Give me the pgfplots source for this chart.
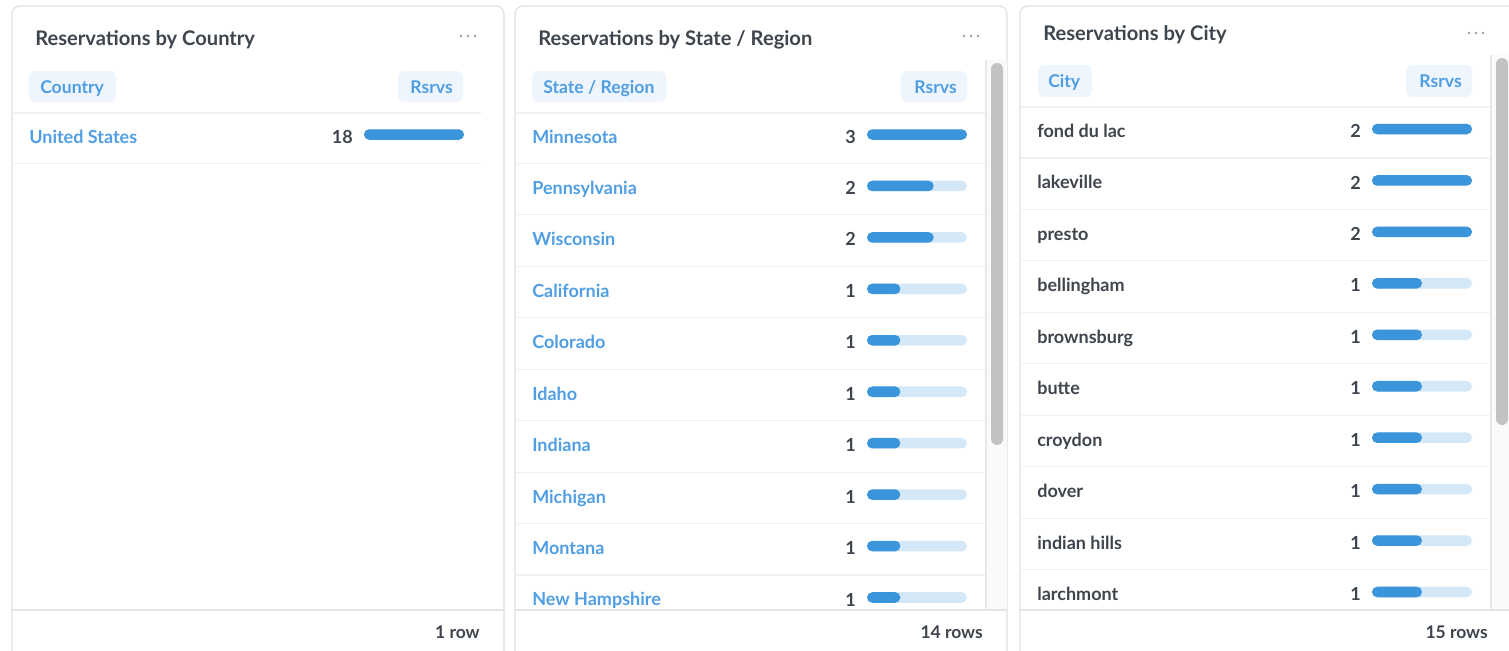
\documentclass[border=0pt]{standalone}
\usepackage{fontspec}
\setmainfont{Lato}
\usepackage{pgfplots}
\pgfplotsset{compat=1.18}
\definecolor{cardborder}{HTML}{DDE0E4}
\definecolor{sepc}{HTML}{EEF0F2}
\definecolor{footc}{HTML}{E2E4E7}
\definecolor{titlec}{HTML}{3F454D}
\definecolor{textc}{HTML}{3F454D}
\definecolor{linkc}{HTML}{509EE3}
\definecolor{pill}{HTML}{EEF5FC}
\definecolor{barc}{HTML}{3A95DB}
\definecolor{trackc}{HTML}{D5E8F8}
\definecolor{dotsc}{HTML}{9AA0A8}
\definecolor{thumbc}{HTML}{C2C2C2}
\definecolor{sbtrack}{HTML}{FAFAFA}
\definecolor{sbline}{HTML}{E8E8E8}
\newcommand\titlefont{\fontsize{15.1}{18}\selectfont\bfseries}
\newcommand\rowfont{\fontsize{13.5}{16}\selectfont\bfseries}
\newcommand\headfont{\fontsize{13.2}{16}\selectfont\bfseries}
\newcommand\footfont{\fontsize{13.1}{16}\selectfont\bfseries}
\pgfplotsset{
  rowbars/.style={scale only axis, width=75pt, xmin=0, ymin=-0.5, y dir=reverse, clip=false,
    axis x line=none, axis y line*=left, y axis line style={draw=none}, ytick style={draw=none},
    major tick length=0pt, anchor=north west,
    yticklabel style={font=\rowfont, text=textc, anchor=east, inner sep=0pt, xshift=-8.25pt, yshift=-1.5pt}},
  trackbar/.style={xbar, bar width=7.9pt, bar shift=0pt, fill=trackc, draw=none, rounded corners=3.9pt},
  valbar/.style={xbar, bar width=7.9pt, bar shift=0pt, fill=barc, draw=none, rounded corners=3.9pt}
}
\begin{document}
\begin{tikzpicture}
\useasboundingbox (0pt,0pt) rectangle (1131.75pt,-487.5pt);
\fill[white] (0pt,0pt) rectangle (1131.75pt,-487.5pt);
\clip (0pt,0pt) rectangle (1131.75pt,-487.5pt);
\begin{scope}[x=0.75pt,y=-0.75pt]
% cards
\foreach \l/\r in {12/504,515/1007,1020/1521}
  \draw[cardborder, line width=0.9pt, fill=white, rounded corners=6pt] (\l,6) rectangle (\r,690);
% ---------- card 1 ----------
\node[anchor=base west, font=\titlefont, text=titlec, inner sep=0pt] at (35,45) {Reservations by Country};
\foreach \d in {461,468,475} \fill[dotsc] (\d,36) circle (1.4);
\fill[pill, rounded corners=5pt] (29,71) rectangle (116,102);
\node[anchor=base west, font=\headfont, text=linkc, inner sep=0pt] at (40,93) {Country};
\fill[pill, rounded corners=5pt] (398,71) rectangle (463,102);
\node[anchor=base east, font=\headfont, text=linkc, inner sep=0pt] at (453,93) {Rsrvs};
\draw[sepc, line width=0.8pt] (12,113) -- (481,113);
\draw[sepc, line width=0.8pt] (12,163.5) -- (481,163.5);
\node[anchor=base west, font=\rowfont, text=linkc, inner sep=0pt] at (29,143) {United States};
\draw[footc, line width=1.2pt] (12,610) -- (504,610);
\node[anchor=base east, font=\footfont, text=textc, inner sep=0pt] at (480,638) {1 row};
% ---------- card 2 ----------
\node[anchor=base west, font=\titlefont, text=titlec, inner sep=0pt] at (538,45) {Reservations by State / Region};
\foreach \d in {964,971,978} \fill[dotsc] (\d,36) circle (1.4);
\fill[sbtrack] (986,60) rectangle (1007,610);
\draw[sbline, line width=0.8pt] (986,60) -- (986,610);
\fill[thumbc, rounded corners=4.5pt] (991,63) rectangle (1003,445);
\fill[pill, rounded corners=5pt] (532,71) rectangle (666,102);
\node[anchor=base west, font=\headfont, text=linkc, inner sep=0pt] at (543,93) {State / Region};
\fill[pill, rounded corners=5pt] (901,71) rectangle (967,102);
\node[anchor=base east, font=\headfont, text=linkc, inner sep=0pt] at (957,93) {Rsrvs};
\draw[sepc, line width=0.8pt] (515,113) -- (985,113);
\foreach \i in {0,...,8} \draw[sepc, line width=0.8pt] (515,163.5+51.44*\i) -- (985,163.5+51.44*\i);
\foreach \n [count=\i from 0] in {Minnesota,Pennsylvania,Wisconsin,California,Colorado,Idaho,Indiana,Michigan,Montana,New Hampshire}
  \node[anchor=base west, font=\rowfont, text=linkc, inner sep=0pt] at (532,143+51.44*\i) {\n};
\draw[footc, line width=1.2pt] (515,610) -- (1007,610);
\node[anchor=base east, font=\footfont, text=textc, inner sep=0pt] at (983,638) {14 rows};
% ---------- card 3 ----------
\node[anchor=base west, font=\titlefont, text=titlec, inner sep=0pt] at (1043,40.5) {Reservations by City};
\foreach \d in {1469,1476,1483} \fill[dotsc] (\d,33) circle (1.4);
\fill[sbtrack] (1491,55) rectangle (1512,610);
\draw[sbline, line width=0.8pt] (1491,55) -- (1491,610);
\fill[thumbc, rounded corners=4.5pt] (1496,58) rectangle (1508,425);
\fill[pill, rounded corners=5pt] (1038,65) rectangle (1092,97);
\node[anchor=base west, font=\headfont, text=linkc, inner sep=0pt] at (1048,87) {City};
\fill[pill, rounded corners=5pt] (1406,65) rectangle (1472,97);
\node[anchor=base east, font=\headfont, text=linkc, inner sep=0pt] at (1462,87) {Rsrvs};
\draw[sepc, line width=0.8pt] (1020,107) -- (1490,107);
\foreach \i in {0,...,8} \draw[sepc, line width=0.8pt] (1020,158+51.44*\i) -- (1490,158+51.44*\i);
\foreach \n [count=\i from 0] in {fond du lac,lakeville,presto,bellingham,brownsburg,butte,croydon,dover,indian hills,larchmont}
  \node[anchor=base west, font=\rowfont, text=textc, inner sep=0pt] at (1037,137.5+51.44*\i) {\n};
\draw[footc, line width=1.2pt] (1020,610) -- (1512,610);
\node[anchor=base east, font=\footfont, text=textc, inner sep=0pt] at (1488,638) {15 rows};
\end{scope}
% ---------- bar axes (positions in pt: px*0.75) ----------
\begin{axis}[rowbars, at={(273pt,-81.6pt)}, height=38.58pt, ymax=0.5, xmax=18,
  ytick={0}, yticklabels={18}]
\addplot[trackbar] coordinates {(18,0)};
\addplot[valbar] coordinates {(18,0)};
\end{axis}
\begin{axis}[rowbars, at={(650.25pt,-81.6pt)}, height=385.8pt, ymax=9.5, xmax=3,
  ytick={0,...,9}, yticklabels={3,2,2,1,1,1,1,1,1,1}]
\addplot[trackbar] coordinates {(3,0) (3,1) (3,2) (3,3) (3,4) (3,5) (3,6) (3,7) (3,8) (3,9)};
\addplot[valbar] coordinates {(3,0) (2,1) (2,2) (1,3) (1,4) (1,5) (1,6) (1,7) (1,8) (1,9)};
\end{axis}
\begin{axis}[rowbars, at={(1029pt,-77.475pt)}, height=385.8pt, ymax=9.5, xmax=2,
  ytick={0,...,9}, yticklabels={2,2,2,1,1,1,1,1,1,1}]
\addplot[trackbar] coordinates {(2,0) (2,1) (2,2) (2,3) (2,4) (2,5) (2,6) (2,7) (2,8) (2,9)};
\addplot[valbar] coordinates {(2,0) (2,1) (2,2) (1,3) (1,4) (1,5) (1,6) (1,7) (1,8) (1,9)};
\end{axis}
\end{tikzpicture}
\end{document}
